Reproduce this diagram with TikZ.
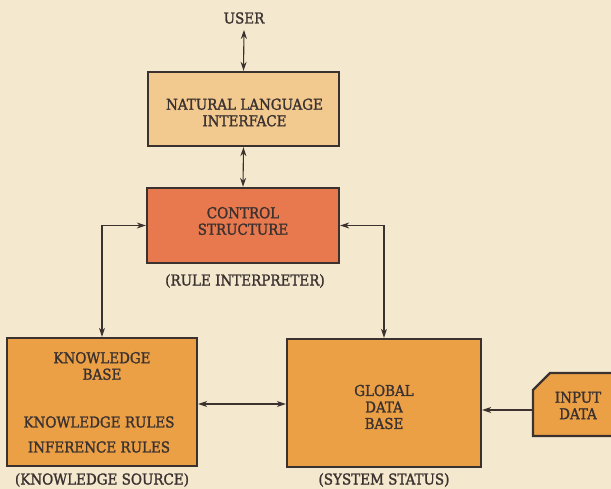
\documentclass[tikz,border=0pt]{standalone}
\usepackage{fontspec}
\newfontfamily\lblfont{DejaVu Serif Condensed}[RawFeature={embolden=1.6}]
\usetikzlibrary{arrows.meta}
\definecolor{bgc}{HTML}{F4E9CF}
\definecolor{nlc}{HTML}{F2C98F}
\definecolor{csc}{HTML}{E8794E}
\definecolor{kbc}{HTML}{ECA045}
\definecolor{ink}{HTML}{3B3230}
\tikzset{
  blk/.style={draw=ink, line width=2.4pt, inner sep=0pt, align=center, text=ink},
  lbl/.style={text=ink, inner sep=0pt, align=center, font=\lblfont\fontsize{15}{16.5}\selectfont},
  conn/.style={draw=ink, line width=1.1pt, {Stealth[length=9pt,width=6pt]}-{Stealth[length=9pt,width=6pt]}},
  conn1/.style={draw=ink, line width=1.1pt, -{Stealth[length=9pt,width=6pt]}},
}
\begin{document}
\begin{tikzpicture}[x=1pt,y=-1pt]
\path[fill=bgc,use as bounding box] (0,0) rectangle (611,489);
\clip (0,0) rectangle (611,489);
\node[lbl] (user) at (244,18) {USER};
\node[blk, fill=nlc, minimum width=191pt, minimum height=74pt] (nl) at (243.5,109) {};
\node[lbl] (nlt) at (244.5,112.5) {NATURAL LANGUAGE\\INTERFACE};
\node[blk, fill=csc, minimum width=192pt, minimum height=75pt] (cs) at (243,225.5) {};
\node[lbl] (cst) at (243,221) {CONTROL\\STRUCTURE};
\node[lbl] (ri) at (245,281) {(RULE INTERPRETER)};
\node[blk, fill=kbc, minimum width=190pt, minimum height=128pt] (kb) at (102,402) {};
\node[lbl] (kbt) at (102,366) {KNOWLEDGE\\BASE};
\node[lbl] (kbr) at (99,422) {KNOWLEDGE RULES};
\node[lbl] (kbi) at (99,447) {INFERENCE RULES};
\node[blk, fill=kbc, minimum width=194pt, minimum height=128pt] (gdb) at (384,403) {};
\node[lbl] (gdbt) at (384,407) {GLOBAL\\DATA\\BASE};
\draw[blk, fill=kbc] (533,390) -- (550,373) -- (625,373) -- (625,436) -- (533,436) -- cycle;
\coordinate (inpw) at (533,410);
\node[lbl] (inp) at (578,405.5) {INPUT\\DATA};
\node[lbl] (ks) at (102,480) {(KNOWLEDGE SOURCE)};
\node[lbl] (ss) at (384,480) {(SYSTEM STATUS)};
\draw[conn] ([yshift=-6pt]user.south) -- (nl.north);
\draw[conn] (nl.south) -- (cs.north);
\draw[conn] (cs.west) -| (kb.north);
\draw[conn] (cs.east) -| (gdb.north);
\draw[conn] (kb.east |- 0,404) -- (gdb.west |- 0,404);
\draw[conn1] (inpw) -- (gdb.east |- inpw);
\end{tikzpicture}
\end{document}
